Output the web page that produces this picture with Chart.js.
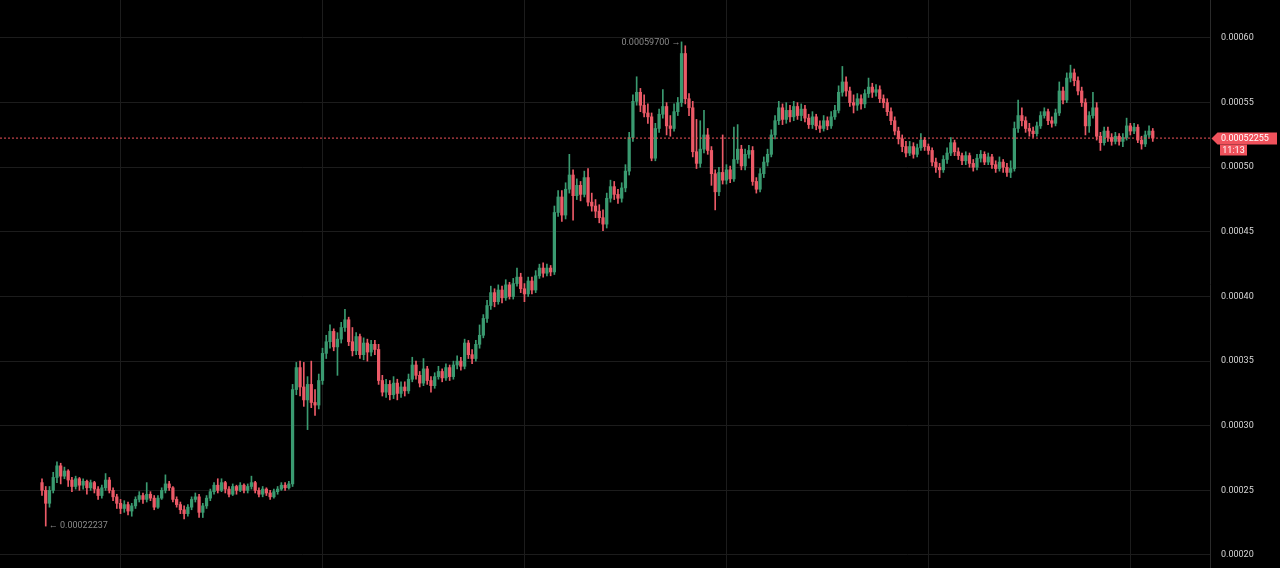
<!DOCTYPE html>
<html><head><meta charset="utf-8">
<script src="https://cdn.jsdelivr.net/npm/chart.js@4.4.0/dist/chart.umd.min.js"></script>
<style>html,body{margin:0;padding:0;background:#000;overflow:hidden}canvas{display:block}</style>
</head><body><canvas id="c" width="1280" height="568"></canvas>
<script>
// Prices are stored in units of 0.00001
const PRICE_UNIT = 1e-5;
const opens = [
25.6,25.0,24.0,25.0,26.0,26.9,26.1,26.5,25.8,25.3,
25.9,25.4,25.7,25.2,25.6,25.1,24.6,25.2,25.8,25.0,
24.5,24.0,23.6,23.9,23.4,23.8,24.3,24.6,24.3,24.7,
24.4,23.7,24.4,25.0,25.5,25.2,24.3,23.9,23.5,23.2,
23.7,24.3,24.5,23.3,23.8,24.4,24.9,25.4,25.0,25.6,
25.1,24.7,25.3,25.0,25.4,25.0,25.3,25.6,25.0,24.7,
25.1,24.8,24.5,24.9,25.1,25.4,25.2,25.5,32.8,34.5,
33.0,32.0,33.2,31.8,31.6,33.5,35.6,36.5,37.3,36.1,
36.7,37.6,38.2,36.5,35.8,36.9,35.5,36.4,35.7,36.3,
35.9,33.5,32.6,33.2,32.4,33.3,32.5,33.0,32.7,33.6,
34.7,33.9,33.3,34.4,33.5,33.1,33.8,34.2,33.7,34.5,
33.8,34.7,35.0,34.6,36.4,35.5,35.2,36.3,37.0,38.3,
39.3,40.3,39.6,40.5,39.9,40.9,40.0,41.0,41.5,40.6,
40.2,41.2,40.5,41.6,42.2,41.8,42.2,41.9,46.5,47.7,
46.3,48.3,49.4,47.8,48.6,47.9,49.2,47.3,47.0,46.6,
46.1,45.6,47.6,48.5,47.9,47.6,48.4,49.7,52.3,55.1,
55.8,54.8,54.2,53.9,50.7,53.0,54.1,54.7,53.2,53.0,
54.3,55.0,58.8,55.3,54.6,51.2,50.3,51.4,52.5,51.3,
49.5,48.1,49.6,49.0,49.8,49.1,50.6,51.4,50.1,51.0,
51.3,48.9,48.3,49.5,50.4,51.0,52.5,53.6,54.6,53.7,
54.4,53.9,54.7,54.0,54.5,53.8,53.3,53.9,53.2,53.0,
53.6,53.2,53.9,54.4,55.8,56.6,55.9,55.0,54.8,55.3,
54.9,55.7,56.2,55.8,56.0,55.3,55.0,54.3,53.6,52.8,
52.2,51.6,51.1,51.6,51.0,51.5,52.1,51.6,51.3,50.4,
50.0,49.8,50.6,51.1,51.9,51.2,50.9,50.5,50.9,50.3,
50.0,50.7,51.0,50.4,50.8,50.2,49.9,50.4,50.0,49.6,
49.9,53.0,54.0,53.6,53.0,52.8,52.6,53.2,54.0,54.3,
53.6,53.4,54.2,55.9,55.2,56.9,57.3,56.7,55.9,55.0,
53.2,54.0,54.6,52.4,51.9,52.8,52.3,52.0,52.4,52.0,
52.3,53.2,52.8,53.1,52.1,51.8,52.5,52.8];
const highs = [
25.9,25.3,25.3,26.4,27.2,27.1,26.8,26.6,26.0,26.1,
26.0,25.9,25.8,25.8,25.7,25.3,25.4,26.3,26.0,25.2,
24.7,24.3,24.2,24.1,24.0,24.5,24.9,24.8,25.6,24.9,
24.6,24.6,25.2,26.2,25.7,25.3,24.5,24.1,23.8,23.9,
24.5,24.8,24.7,24.0,24.6,25.1,25.6,25.9,25.9,25.7,
25.3,25.5,25.4,25.6,25.5,25.5,26.1,25.7,25.2,25.3,
25.2,25.0,25.1,25.3,25.6,25.6,25.7,33.2,34.9,35.0,
34.9,33.8,35.0,32.8,34.0,36.0,37.0,37.8,37.5,37.2,
38.0,39.0,38.4,37.6,37.2,37.1,36.8,36.7,36.6,36.6,
36.3,33.9,33.6,33.5,33.8,33.6,33.4,33.4,34.0,35.3,
35.0,34.2,35.2,34.6,33.8,34.1,34.6,34.4,34.8,34.7,
35.0,35.4,35.3,36.7,36.6,35.9,36.6,37.8,38.6,39.7,
40.8,40.6,40.9,40.8,41.3,41.1,41.4,42.2,41.8,41.0,
41.5,41.5,42.0,42.5,42.6,42.5,42.4,47.0,48.2,48.2,
48.8,51.0,49.8,49.1,48.9,49.7,49.9,48.0,47.5,47.1,
46.7,48.0,49.0,48.9,48.3,48.8,50.2,52.7,55.6,57.0,
56.1,55.6,54.9,54.2,53.4,54.5,56.0,55.0,54.0,54.9,
55.4,59.7,59.4,55.7,55.1,53.7,53.6,54.4,53.0,51.6,
49.8,50.0,52.5,50.2,50.1,53.1,53.3,51.7,51.4,51.7,
51.6,49.2,49.9,50.8,51.4,52.9,54.0,55.1,54.9,55.0,
54.8,55.1,55.0,54.9,54.8,54.1,54.3,54.1,53.6,54.0,
53.9,54.3,54.8,56.3,57.8,57.0,56.2,55.6,55.7,55.6,
56.0,56.9,56.5,56.4,56.3,55.6,55.3,54.6,53.9,53.1,
52.5,52.0,52.0,51.9,51.8,52.6,52.3,51.8,51.5,50.7,
50.3,50.9,51.5,52.3,52.1,51.5,51.1,51.2,51.1,50.6,
51.0,51.3,51.2,51.1,51.0,50.5,50.8,50.6,50.3,50.5,
53.5,55.2,54.6,53.9,53.4,53.1,53.5,54.3,54.6,54.5,
53.9,54.5,56.6,56.2,57.3,57.9,57.6,57.0,56.2,55.3,
54.3,55.8,55.0,52.7,53.1,53.1,52.6,52.7,52.6,52.6,
53.8,53.4,53.4,53.3,52.4,52.8,53.2,53.0];
const lows = [
24.6,22.237,23.7,24.8,25.6,25.5,25.9,25.3,24.9,25.1,
25.0,25.1,24.7,25.0,24.8,24.3,24.4,25.0,24.8,24.2,
23.6,23.2,23.3,23.1,23.0,23.6,24.1,24.0,24.1,24.2,
23.5,23.6,24.3,24.8,25.0,24.1,23.7,23.2,22.8,23.0,
23.5,24.1,22.9,22.9,23.6,24.2,24.7,24.8,24.9,24.8,
24.5,24.6,24.7,24.9,24.8,24.8,25.1,24.8,24.5,24.5,
24.6,24.3,24.4,24.7,25.0,25.0,25.1,25.3,32.4,32.3,
31.5,29.7,31.4,30.8,31.3,33.2,35.2,36.0,35.8,33.9,
36.4,37.3,36.2,35.4,35.5,35.2,35.1,35.0,35.4,35.5,
33.2,32.3,32.2,32.0,32.1,32.0,32.2,32.3,32.5,33.4,
33.6,33.0,33.1,33.2,32.6,32.9,33.6,33.4,33.5,33.5,
33.6,34.4,34.3,34.4,35.2,34.8,35.0,36.0,36.8,38.0,
39.0,39.2,39.4,39.5,39.7,39.8,39.8,40.8,40.3,39.6,
40.0,40.2,40.3,41.4,41.5,41.6,41.6,41.7,46.2,45.8,
46.0,48.0,45.9,47.5,47.4,47.7,47.0,46.6,46.1,45.7,
45.1,45.3,47.3,47.5,47.2,47.3,48.1,49.4,52.0,54.8,
54.3,53.9,53.4,50.5,50.5,52.7,53.8,52.5,52.4,52.8,
54.0,54.7,54.9,54.0,50.8,49.9,50.0,51.1,51.0,48.6,
46.7,47.8,48.7,48.7,48.8,48.9,50.3,49.8,49.8,50.7,
48.6,48.0,48.1,49.2,50.1,50.8,52.2,53.3,53.3,53.4,
53.5,53.6,53.7,53.6,53.5,53.0,53.0,52.9,52.7,52.8,
52.9,53.0,53.7,54.2,55.5,55.5,54.7,54.2,54.4,54.5,
54.6,55.4,55.4,55.5,55.0,54.6,54.0,53.3,52.5,51.8,
51.2,50.8,50.9,50.7,50.8,51.3,51.3,51.0,50.1,49.6,
49.2,49.6,50.3,50.9,50.9,50.6,50.2,50.2,50.0,49.7,
49.8,50.4,50.2,50.2,49.9,49.6,49.7,49.6,49.3,49.2,
49.7,52.7,53.2,52.7,52.4,52.3,52.4,53.0,53.8,53.3,
53.1,53.2,54.0,54.9,55.0,56.6,56.3,55.6,54.7,52.5,
52.7,53.8,52.1,51.3,51.7,52.0,51.7,51.8,51.7,51.6,
52.1,52.5,52.6,51.9,51.4,51.6,52.3,52.0];
const closes = [
25.0,24.0,25.0,26.0,26.9,26.1,26.5,25.8,25.3,25.9,
25.4,25.7,25.2,25.6,25.1,24.6,25.2,25.8,25.0,24.5,
24.0,23.6,23.9,23.4,23.8,24.3,24.6,24.3,24.7,24.4,
23.7,24.4,25.0,25.5,25.2,24.3,23.9,23.5,23.2,23.7,
24.3,24.5,23.3,23.8,24.4,24.9,25.4,25.0,25.6,25.1,
24.7,25.3,25.0,25.4,25.0,25.3,25.6,25.0,24.7,25.1,
24.8,24.5,24.9,25.1,25.4,25.2,25.5,32.8,34.5,33.0,
32.0,33.2,31.8,31.6,33.5,35.6,36.5,37.3,36.1,36.7,
37.6,38.2,36.5,35.8,36.9,35.5,36.4,35.7,36.3,35.9,
33.5,32.6,33.2,32.4,33.3,32.5,33.0,32.7,33.6,34.7,
33.9,33.3,34.4,33.5,33.1,33.8,34.2,33.7,34.5,33.8,
34.7,35.0,34.6,36.4,35.5,35.2,36.3,37.0,38.3,39.3,
40.3,39.6,40.5,39.9,40.9,40.0,41.0,41.5,40.6,40.2,
41.2,40.5,41.6,42.2,41.8,42.2,41.9,46.5,47.7,46.3,
48.3,49.4,47.8,48.6,47.9,49.2,47.3,47.0,46.6,46.1,
45.6,47.6,48.5,47.9,47.6,48.4,49.7,52.3,55.1,55.8,
54.8,54.2,53.9,50.7,53.0,54.1,54.7,53.2,53.0,54.3,
55.0,58.8,55.3,54.6,51.2,50.3,51.4,52.5,51.3,49.5,
48.1,49.6,49.0,49.8,49.1,50.6,51.4,50.1,51.0,51.3,
48.9,48.3,49.5,50.4,51.0,52.5,53.6,54.6,53.7,54.4,
53.9,54.7,54.0,54.5,53.8,53.3,53.9,53.2,53.0,53.6,
53.2,53.9,54.4,55.8,56.6,55.9,55.0,54.8,55.3,54.9,
55.7,56.2,55.8,56.0,55.3,55.0,54.3,53.6,52.8,52.2,
51.6,51.1,51.6,51.0,51.5,52.1,51.6,51.3,50.4,50.0,
49.8,50.6,51.1,51.9,51.2,50.9,50.5,50.9,50.3,50.0,
50.7,51.0,50.4,50.8,50.2,49.9,50.4,50.0,49.6,49.9,
53.0,54.0,53.6,53.0,52.8,52.6,53.2,54.0,54.3,53.6,
53.4,54.2,55.9,55.2,56.9,57.3,56.7,55.9,55.0,53.2,
54.0,54.6,52.4,51.9,52.8,52.3,52.0,52.4,52.0,52.3,
53.2,52.8,53.1,52.1,51.8,52.5,52.8,52.255];
const yTickValues = [20, 25, 30, 35, 40, 45, 50, 55, 60];
const xGridValues = [21, 75, 129, 183, 237, 291];
const countdownLabel = '11:13';

// view window / styles
const X_MIN = -11.23, X_MAX = 312.3;
const Y_MIN = 18.994, Y_MAX = 62.94;
const UP = '#3a9a70', DOWN = '#ec5a67', TAG = '#f0525c';
const FONT = 'Roboto, "Noto Sans", sans-serif';

const fmt = (v, d) => (v * PRICE_UNIT).toFixed(d);
const idx = opens.map((_, i) => i);
const colors = idx.map(i => closes[i] >= opens[i] ? UP : DOWN);
const last = closes.length - 1;
const lastClose = closes[last];
let hiIdx = 0, loIdx = 0;
idx.forEach(i => { if (highs[i] > highs[hiIdx]) hiIdx = i; if (lows[i] < lows[loIdx]) loIdx = i; });

const overlay = {
  id: 'overlay',
  afterDraw(chart) {
    const ctx = chart.ctx, ys = chart.scales.y, xs = chart.scales.x, ca = chart.chartArea;
    ctx.save();
    // high / low annotations
    ctx.font = '9px ' + FONT;
    ctx.fillStyle = '#8a8a8a';
    ctx.textBaseline = 'middle';
    ctx.textAlign = 'right';
    ctx.fillText(fmt(highs[hiIdx], 8) + ' \u2192', xs.getPixelForValue(hiIdx) - 1, ys.getPixelForValue(highs[hiIdx]) + 1);
    ctx.textAlign = 'left';
    ctx.fillText('\u2190 ' + fmt(lows[loIdx], 8), xs.getPixelForValue(loIdx) + 3, ys.getPixelForValue(lows[loIdx]));
    // last price tag
    const y = Math.round(ys.getPixelForValue(lastClose)) + 0.5;
    const xl = ca.right + 1.5, xr = 1277;
    ctx.fillStyle = TAG;
    ctx.beginPath();
    ctx.moveTo(xl, y);
    ctx.lineTo(xl + 6, y - 6);
    ctx.lineTo(xr, y - 6);
    ctx.lineTo(xr, y + 6);
    ctx.lineTo(xl + 6, y + 6);
    ctx.closePath();
    ctx.fill();
    ctx.fillRect(ca.right + 10, y + 6, 27, 11);
    ctx.fillStyle = '#ffffff';
    ctx.font = '9px ' + FONT;
    ctx.textAlign = 'left';
    ctx.fillText(fmt(lastClose, 8), ca.right + 11, y + 0.5);
    ctx.textAlign = 'center';
    ctx.fillText(countdownLabel, ca.right + 23.5, y + 12);
    ctx.restore();
  }
};

new Chart(document.getElementById('c'), {
  type: 'bar',
  data: {
    datasets: [
      {
        type: 'line',
        data: [{ x: X_MIN, y: lastClose }, { x: X_MAX, y: lastClose }],
        borderColor: TAG, borderWidth: 1, borderDash: [2, 2],
        pointRadius: 0, order: 0
      },
      {
        data: idx.map(i => ({ x: i, y: [opens[i], closes[i]] })),
        backgroundColor: colors, borderWidth: 0,
        barThickness: 2.6, grouped: false, minBarLength: 1, order: 1
      },
      {
        data: idx.map(i => ({ x: i, y: [lows[i], highs[i]] })),
        backgroundColor: colors, borderWidth: 0,
        barThickness: 1, grouped: false, order: 2
      }
    ]
  },
  options: {
    responsive: false,
    animation: false,
    layout: { padding: 0 },
    plugins: { legend: { display: false }, tooltip: { enabled: false } },
    scales: {
      x: {
        type: 'linear', min: X_MIN, max: X_MAX, offset: false,
        afterBuildTicks: s => { s.ticks = xGridValues.map(v => ({ value: v })); },
        afterFit: s => { s.height = 0; s.paddingLeft = 0; s.paddingRight = 0; },
        ticks: { display: false },
        grid: { color: '#1c1c1c', drawTicks: false, offset: false },
        border: { display: false }
      },
      y: {
        position: 'right', min: Y_MIN, max: Y_MAX,
        afterBuildTicks: s => { s.ticks = yTickValues.map(v => ({ value: v })); },
        afterFit: s => { s.width = 70; s.paddingTop = 0; s.paddingBottom = 0; },
        ticks: {
          color: '#d6d6d6', padding: 11,
          font: { family: FONT, size: 9 },
          callback: v => fmt(v, 5)
        },
        grid: { color: '#1c1c1c', drawTicks: false },
        border: { display: true, color: '#2a2a2a' }
      }
    }
  },
  plugins: [overlay]
});
</script>
</body></html>
